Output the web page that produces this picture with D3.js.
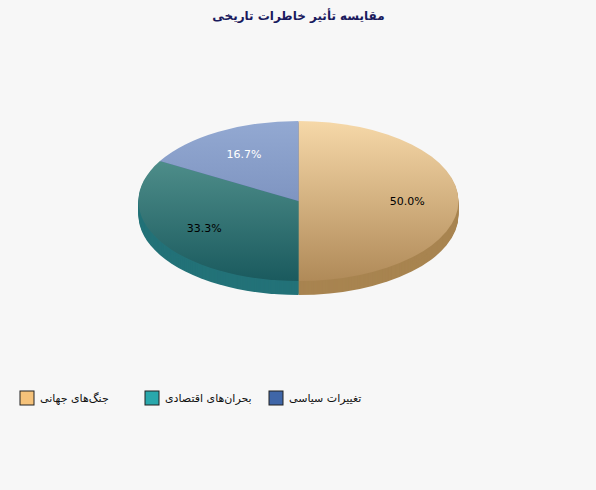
<!DOCTYPE html>
<html><head><meta charset="utf-8">
<script src="https://cdn.jsdelivr.net/npm/d3@7"></script>
<style>body{margin:0;background:#f7f7f7}</style>
</head><body>
<script>
var categories = ["جنگ‌های جهانی", "بحران‌های اقتصادی", "تغییرات سیاسی"];
var values = [3, 2, 1];
var topLight = ["#f6d8a8", "#5f9e98", "#93a9d2"];
var topDark = ["#b08a58", "#1a5a5e", "#6a80b0"];
var sideColors = ["#a88450", "#237278", "#53699a"];
var legendColors = ["#f5c27a", "#2aa8ac", "#3f66a8"];
var labelColors = ["#000", "#000", "#fff"];

var width = 596, height = 490;
var cx = 298.5, cy = 201, rx = 160, ry = 80, depth = 14;

var svg = d3.select("body").append("svg")
    .attr("width", width).attr("height", height)
    .style("font-family", "DejaVu Sans, sans-serif");

svg.append("rect").attr("width", width).attr("height", height).attr("fill", "#f7f7f7");

svg.append("text")
    .attr("x", cx).attr("y", 20)
    .attr("text-anchor", "middle")
    .attr("font-size", 12).attr("font-weight", "bold")
    .attr("fill", "#1a1a5e")
    .text("مقایسه تأثیر خاطرات تاریخی");

var defs = svg.append("defs");
categories.forEach(function (c, i) {
    var g = defs.append("linearGradient").attr("id", "g" + i)
        .attr("gradientUnits", "userSpaceOnUse")
        .attr("x1", 0).attr("y1", -1).attr("x2", 0).attr("y2", 1);
    g.append("stop").attr("offset", "0%").attr("stop-color", topLight[i]);
    g.append("stop").attr("offset", "100%").attr("stop-color", topDark[i]);
});

var pie = d3.pie().sort(null);
var arcs = pie(values);
var arc = d3.arc().innerRadius(0).outerRadius(1);

// side layers
for (var d = depth; d > 0; d--) {
    svg.append("g")
        .attr("transform", "translate(" + cx + "," + (cy + d) + ") scale(" + rx + "," + ry + ")")
        .selectAll("path").data(arcs).enter().append("path")
        .attr("d", arc)
        .attr("fill", function (a, i) { return sideColors[i]; });
}

svg.append("g")
    .attr("transform", "translate(" + cx + "," + cy + ") scale(" + rx + "," + ry + ")")
    .selectAll("path").data(arcs).enter().append("path")
    .attr("d", arc)
    .attr("fill", function (a, i) { return "url(#g" + i + ")"; });

var total = d3.sum(values);
var labelArc = d3.arc().innerRadius(0.68).outerRadius(0.68);
svg.append("g").selectAll("text").data(arcs).enter().append("text")
    .attr("x", function (a) { return cx + labelArc.centroid(a)[0] * rx; })
    .attr("y", function (a) { return cy + labelArc.centroid(a)[1] * ry + 4; })
    .attr("text-anchor", "middle")
    .attr("font-size", 11)
    .attr("fill", function (a, i) { return labelColors[i]; })
    .text(function (a) { return (a.value / total * 100).toFixed(1) + "%"; });

var legendX = [20, 145, 269];
var lg = svg.append("g").selectAll("g").data(categories).enter().append("g")
    .attr("transform", function (c, i) { return "translate(" + legendX[i] + ",391)"; });
lg.append("rect").attr("width", 14).attr("height", 14)
    .attr("fill", function (c, i) { return legendColors[i]; })
    .attr("stroke", "#222");
lg.append("text").attr("x", 20).attr("y", 11)
    .attr("font-size", 11).attr("fill", "#111")
    .text(function (c) { return c; });
</script>
</body></html>
